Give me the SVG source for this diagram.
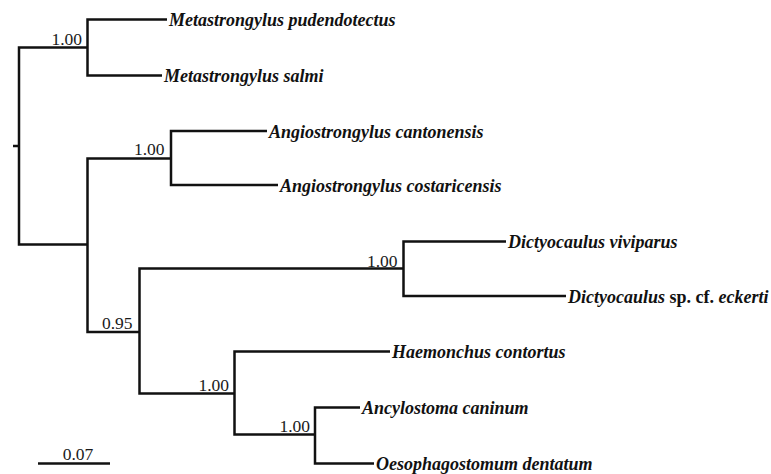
<svg xmlns="http://www.w3.org/2000/svg" width="771" height="474" viewBox="0 0 771 474">
<style>
.br{fill:none;stroke:#111;stroke-width:2.5;stroke-linecap:butt;stroke-linejoin:miter}
.tip{font-family:"Liberation Serif","Times New Roman",serif;font-size:18px;font-weight:bold;font-style:italic;fill:#111}
.sup{font-family:"Liberation Serif","Times New Roman",serif;font-size:17.5px;fill:#1a1a1a;text-anchor:end}
.up{font-style:normal}
</style>
<rect width="771" height="474" fill="#fff"/>
<g id="connectors">
<path class="br" d="M87.5,47.5 H19 V244.5 H87.5"/>
<path class="br" d="M13,146 H19"/>
<path class="br" d="M167,19.5 H87.5 V75.5 H162"/>
<path class="br" d="M171,158.5 H87.5 V332 H139.5"/>
<path class="br" d="M267,131 H171 V185 H278"/>
<path class="br" d="M403.5,268.5 H139.5 V393.5 H234.5"/>
<path class="br" d="M506,241.5 H403.5 V296 H566"/>
<path class="br" d="M390,351.5 H234.5 V434.5 H315"/>
<path class="br" d="M360,407.5 H315 V463.5 H374"/>
</g>
<g id="node-metastrongylus"><text class="sup" x="82" y="45">1.00</text></g>
<g id="node-angiostrongylus"><text class="sup" x="164.5" y="155">1.00</text></g>
<g id="node-ingroup"><text class="sup" x="132.5" y="328.5">0.95</text></g>
<g id="node-dictyocaulus"><text class="sup" x="397.5" y="266.5">1.00</text></g>
<g id="node-strongylida"><text class="sup" x="229" y="391">1.00</text></g>
<g id="node-ancylostoma"><text class="sup" x="310" y="431.5">1.00</text></g>
<g id="tip-m-pudendotectus"><text class="tip" x="169" y="26">Metastrongylus pudendotectus</text></g>
<g id="tip-m-salmi"><text class="tip" x="164" y="82">Metastrongylus salmi</text></g>
<g id="tip-a-cantonensis"><text class="tip" x="269" y="137.5">Angiostrongylus cantonensis</text></g>
<g id="tip-a-costaricensis"><text class="tip" x="280" y="191.5">Angiostrongylus costaricensis</text></g>
<g id="tip-d-viviparus"><text class="tip" x="508" y="248">Dictyocaulus viviparus</text></g>
<g id="tip-d-eckerti"><text class="tip" x="568" y="302.5">Dictyocaulus<tspan class="up"> sp. cf. </tspan>eckerti</text></g>
<g id="tip-h-contortus"><text class="tip" x="392" y="358">Haemonchus contortus</text></g>
<g id="tip-a-caninum"><text class="tip" x="362" y="414">Ancylostoma caninum</text></g>
<g id="tip-o-dentatum"><text class="tip" x="376" y="470">Oesophagostomum dentatum</text></g>
<g id="scale-bar">
<path class="br" d="M38,463.5 H110"/>
<text class="sup" x="78" y="459.5" style="text-anchor:middle">0.07</text>
</g>
</svg>
